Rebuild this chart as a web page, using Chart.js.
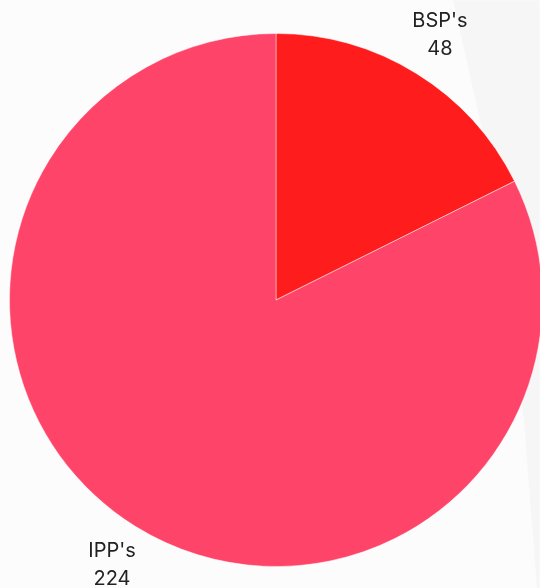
<!DOCTYPE html>
<html>
<head>
<meta charset="utf-8">
<script src="https://cdn.jsdelivr.net/npm/chart.js@4"></script>
<style>
  html, body {
    margin: 0;
    padding: 0;
    width: 540px;
    height: 588px;
    overflow: hidden;
    background: #fcfcfc;
  }
  /* faint shade down the right-hand side */
  #shade {
    position: absolute;
    left: 0;
    top: 0;
    width: 540px;
    height: 588px;
    background: #f6f6f6;
    clip-path: polygon(453px 0, 540px 0, 540px 588px, 537px 588px, 524px 420px, 498px 200px);
    filter: blur(1px);
  }
  #wrap {
    position: absolute;
    left: 0;
    top: 0;
    width: 560px;
    height: 588px;
  }
</style>
</head>
<body>
<div id="shade"></div>
<div id="wrap"><canvas id="pieChart" width="560" height="588"></canvas></div>
<script>
// Slice names and counts
const labels = ["BSP's", "IPP's"];
const counts = [48, 224];
const colors = ['#ff1c1c', '#ff4469'];

// Draws "name / value" outside each slice, along the slice's middle angle
const outsideLabels = {
  id: 'outsideLabels',
  afterDatasetsDraw(chart) {
    const ctx = chart.ctx;
    const meta = chart.getDatasetMeta(0);
    ctx.save();
    ctx.font = '20px Inter, "Noto Sans", sans-serif';
    ctx.fillStyle = '#222';
    ctx.textAlign = 'center';
    ctx.textBaseline = 'middle';
    meta.data.forEach((arc, i) => {
      const { x, y, startAngle, endAngle, outerRadius } = arc.getProps(['x', 'y', 'startAngle', 'endAngle', 'outerRadius'], true);
      const mid = (startAngle + endAngle) / 2;
      const r = outerRadius + 45;
      const cx = x + Math.cos(mid) * r;
      const cy = y + Math.sin(mid) * r;
      ctx.fillText(labels[i], cx, cy - 14);
      ctx.fillText(String(chart.data.datasets[0].data[i]), cx, cy + 14);
    });
    ctx.restore();
  }
};

const ctx = document.getElementById('pieChart').getContext('2d');

new Chart(ctx, {
  type: 'pie',
  data: {
    labels: labels,
    datasets: [{
      data: counts,
      backgroundColor: colors,
      borderColor: 'rgba(255, 255, 255, 0.45)',
      borderWidth: 1
    }]
  },
  options: {
    responsive: false,
    animation: false,
    layout: {
      padding: { top: 33, bottom: 21, left: 9, right: 17 }
    },
    plugins: {
      legend: { display: false },
      tooltip: { enabled: false }
    }
  },
  plugins: [outsideLabels]
});
</script>
</body>
</html>
